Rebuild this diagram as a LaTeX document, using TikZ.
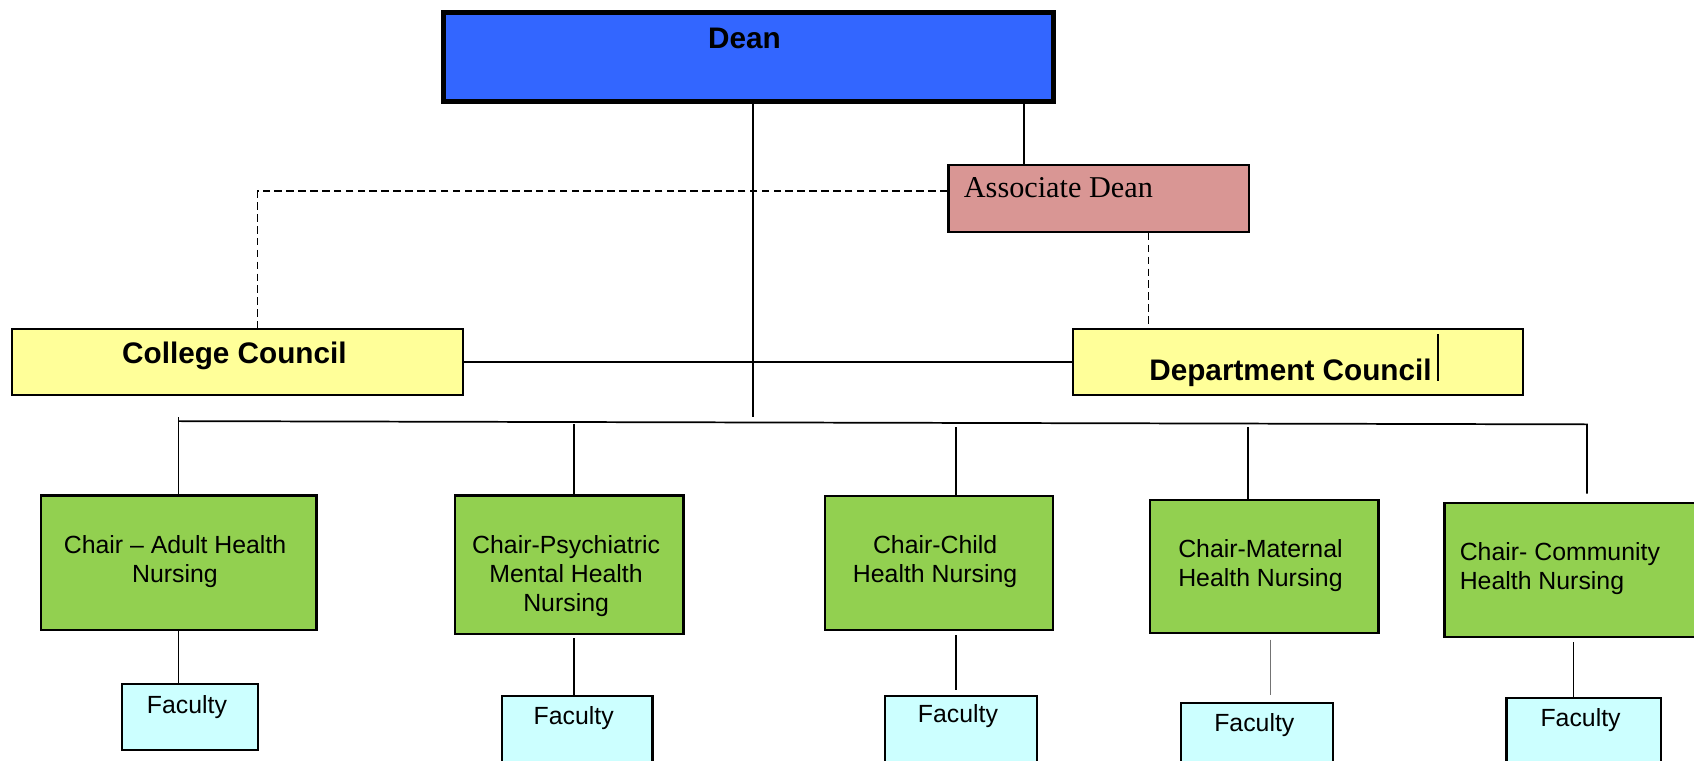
\documentclass[tikz,border=0pt]{standalone}
\usepackage{fontspec}
\setmainfont{Liberation Sans}
\newfontfamily\timesfont{Liberation Serif}
\definecolor{deanblue}{HTML}{3366FF}
\definecolor{assocpink}{HTML}{D99694}
\definecolor{councilyellow}{HTML}{FFFF99}
\definecolor{chairgreen}{HTML}{92D050}
\definecolor{facultycyan}{HTML}{CCFFFF}
\begin{document}
\begin{tikzpicture}[x=1pt,y=-1pt,
  box/.style={draw=black, line width=2pt, rectangle, inner sep=0pt, anchor=north west},
  conn/.style={line width=1.6pt},
  dashconn/.style={line width=1.7pt, dash pattern=on 7pt off 4pt},
  boldtxt/.style={font=\fontsize{27.5}{30}\selectfont\bfseries, inner sep=0pt, anchor=base},
  chairtxt/.style={font=\fontsize{23}{27}\selectfont, inner sep=0pt, anchor=base},
]
\useasboundingbox (0,0) rectangle (1568,704);
\clip (0,0) rectangle (1568,704);

% boxes
\node[box, line width=4.6pt, fill=deanblue, minimum width=564.4pt, minimum height=82.4pt] (dean) at (408.5,9.3) {};
\node[box, fill=assocpink, minimum width=278pt, minimum height=62pt] (assoc) at (877,151.6) {};
\node[box, fill=councilyellow, minimum width=417.6pt, minimum height=61.6pt] (college) at (10,303.4) {};
\node[box, fill=councilyellow, minimum width=416.5pt, minimum height=61.6pt] (deptc) at (992.3,303.4) {};
\node[box, fill=chairgreen, minimum width=255pt, minimum height=124.4pt] (chair1) at (37,457.6) {};
\node[box, fill=chairgreen, minimum width=211.2pt, minimum height=128.2pt] (chair2) at (420.4,457.6) {};
\node[box, fill=chairgreen, minimum width=210.7pt, minimum height=124pt] (chair3) at (762.6,458) {};
\node[box, fill=chairgreen, minimum width=211.4pt, minimum height=123pt] (chair4) at (1063.6,462) {};
\node[box, fill=chairgreen, minimum width=250pt, minimum height=124.2pt] (chair5) at (1336,464.4) {};
\node[box, fill=facultycyan, minimum width=126.1pt, minimum height=61pt] (faculty1) at (111.7,632) {};
\node[box, fill=facultycyan, minimum width=139pt, minimum height=80pt] (faculty2) at (464,643.5) {};
\node[box, fill=facultycyan, minimum width=141pt, minimum height=80pt] (faculty3) at (818,643) {};
\node[box, fill=facultycyan, minimum width=141pt, minimum height=80pt] (faculty4) at (1092,650) {};
\node[box, fill=facultycyan, minimum width=143pt, minimum height=80pt] (faculty5) at (1393.5,645) {};

% texts
\node[boldtxt] (tdean) at (689,44.7) {Dean};
\node[font=\timesfont\fontsize{28}{30}\selectfont, inner sep=0pt, anchor=base west] (tassoc) at (892,183) {Associate Dean};
\node[boldtxt] (tcollege) at (217,336) {College Council};
\node[boldtxt] (tdept) at (1194.5,352) {Department Council};
\draw[line width=1.2pt] (1331,309) -- (1331,352.6);

\node[chairtxt] (tc1) at (162,512) {\begin{tabular}[t]{@{}c@{}}Chair – Adult Health\\Nursing\end{tabular}};
\node[chairtxt] (tc2) at (524,512) {\begin{tabular}[t]{@{}c@{}}Chair-Psychiatric\\Mental Health\\Nursing\end{tabular}};
\node[chairtxt] (tc3) at (865.6,512) {\begin{tabular}[t]{@{}c@{}}Chair-Child\\Health Nursing\end{tabular}};
\node[chairtxt] (tc4) at (1166.7,515.6) {\begin{tabular}[t]{@{}c@{}}Chair-Maternal\\Health Nursing\end{tabular}};
\node[chairtxt, anchor=base west] (tc5) at (1351,519) {\begin{tabular}[t]{@{}l@{}}Chair- Community\\Health Nursing\end{tabular}};

\node[chairtxt] (tf1) at (173,660) {Faculty};
\node[chairtxt] (tf2) at (531,671) {Faculty};
\node[chairtxt] (tf3) at (886.7,669) {Faculty};
\node[chairtxt] (tf4) at (1161,677) {Faculty};
\node[chairtxt] (tf5) at (1463,672.6) {Faculty};

% connectors
\coordinate (deanmain) at (696.7,386.4);
\draw[conn] (dean.south -| deanmain) -- (deanmain);
\coordinate (assocx) at (948,0);
\draw[conn] (dean.south -| assocx) -- (assoc.north -| assocx);
\coordinate (dashcorner) at (238.4,176.8);
\draw[dashconn] (assoc.west |- dashcorner) -- (dashcorner) -- (college.north -| dashcorner);
\coordinate (dashx2) at (1063,0);
\draw[dashconn] (assoc.south -| dashx2) -- (deptc.north -| dashx2);
\draw[conn] (college.east) -- (deptc.west);

\coordinate (busLtop) at (165.3,386);
\coordinate (busL) at (165.3,389.8);
\coordinate (busR) at (1469,392.8);
\coordinate (c5end) at (1469,457);
\draw[conn] (busLtop) -- (chair1.north -| busLtop);
\draw[conn] (busL) -- (busR) -- (c5end);
\coordinate (d2) at (531.4,392.5);
\coordinate (d3) at (885,395.5);
\coordinate (d4) at (1155.3,395.5);
\draw[conn] (d2) -- (chair2.north -| d2);
\draw[conn] (d3) -- (chair3.north -| d3);
\draw[conn] (d4) -- (chair4.north -| d4);

\coordinate (fx1) at (165.3,0);
\coordinate (fx2) at (531.4,0);
\coordinate (fx3) at (885,0);
\coordinate (fx4) at (1175.7,0);
\coordinate (fx5) at (1456.5,0);
\draw[conn] (chair1.south -| fx1) -- (faculty1.north -| fx1);
\draw[conn, shorten <=3pt] (chair2.south -| fx2) -- (faculty2.north -| fx2);
\draw[conn, shorten <=4pt, shorten >=4pt] (chair3.south -| fx3) -- (faculty3.north -| fx3);
\draw[line width=1pt, black!55, shorten <=5pt, shorten >=7pt] (chair4.south -| fx4) -- (faculty4.north -| fx4);
\draw[conn, shorten <=4pt] (chair5.south -| fx5) -- (faculty5.north -| fx5);
\end{tikzpicture}
\end{document}
